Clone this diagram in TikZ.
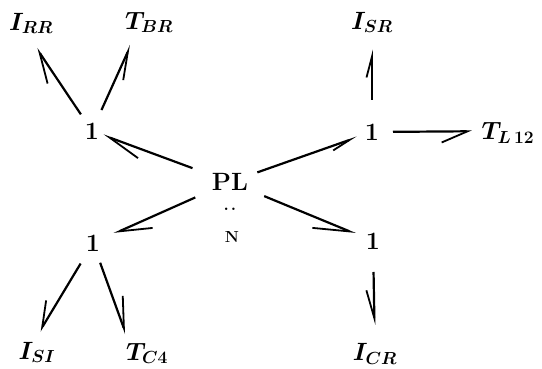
\RequirePackage{fix-cm}
\documentclass[tikz,border=0pt]{standalone}
\usetikzlibrary{arrows.meta}
\begin{document}
\begin{tikzpicture}[x=1pt,y=-1pt,
  lbl/.style={inner sep=0pt, font=\fontsize{25}{29}\selectfont\boldmath},
  junc/.style={inner sep=0pt, font=\fontsize{25}{29}\selectfont\bfseries},
  bondL/.style 2 args={line width=2.2pt, -{Straight Barb[harpoon, length=#1, width=#2, line width=1.8pt]}},
  bondR/.style 2 args={line width=2.2pt, -{Straight Barb[harpoon, swap, length=#1, width=#2, line width=1.8pt]}},
]
\useasboundingbox (0,0) rectangle (542,369);
% junctions and central element
\node[junc] (PL) at (230,182) {PL};
\node[inner sep=0pt, font=\fontsize{17}{20}\selectfont\bfseries] (dots) at (230,209) {.\kern2pt.};
\node[inner sep=0pt, font=\fontsize{16}{19}\selectfont\bfseries] (N) at (232,237) {N};
\node[junc] (UL) at (92,131) {1};
\node[junc] (UR) at (372,132) {1};
\node[junc] (LL) at (93,243) {1};
\node[junc] (LR) at (373,241) {1};
% elements
\node[lbl] (IRR) at (31,23.5) {$I_{RR}$};
\node[lbl] (TBR) at (149,22.5) {$T_{BR}$};
\node[lbl] (ISR) at (372,22.5) {$I_{SR}$};
\node[lbl] (TL) at (508,133) {$T_{L\,12}$};
\node[lbl] (ISI) at (37,352.5) {$I_{SI}$};
\node[lbl] (TC) at (147,353.5) {$T_{C4}$};
\node[lbl] (ICR) at (375,354) {$I_{CR}$};
% bonds
\draw[bondL={34pt}{19pt}, shorten <=40pt, shorten >=12pt] (PL.center) -- (UL.center);
\draw[bondR={19pt}{9pt}, shorten <=29pt, shorten >=16pt] (PL.center) -- (UR.center);
\draw[bondL={32pt}{21pt}, shorten <=38pt, shorten >=23pt] (PL.center) -- (LL.center);
\draw[bondR={36pt}{22pt}, shorten <=37pt, shorten >=19pt] (PL.center) -- (LR.center);
\draw[bondL={30pt}{21pt}, shorten <=20pt, shorten >=30pt] (UL.center) -- ([xshift=-11pt]IRR.center);
\draw[bondR={28pt}{15pt}, shorten <=23pt, shorten >=25pt] (UL.center) -- ([xshift=-8pt]TBR.center);
\draw[bondL={21pt}{11pt}, shorten <=32pt, shorten >=27pt] (UR.center) -- (ISR.center);
\draw[bondR={26pt}{22pt}, shorten <=21pt, shorten >=36pt] (UR.center) -- ([yshift=2pt]TL.center);
\draw[bondR={25pt}{21pt}, shorten <=24pt, shorten >=25pt] (LL.center) -- ([xshift=-10pt]ISI.center);
\draw[bondL={31pt}{20pt}, shorten <=21pt, shorten >=21pt] (LL.center) -- ([xshift=-14pt]TC.center);
\draw[bondR={28pt}{15pt}, shorten <=31pt, shorten >=29pt] (LR.center) -- (ICR.center);
\end{tikzpicture}
\end{document}
